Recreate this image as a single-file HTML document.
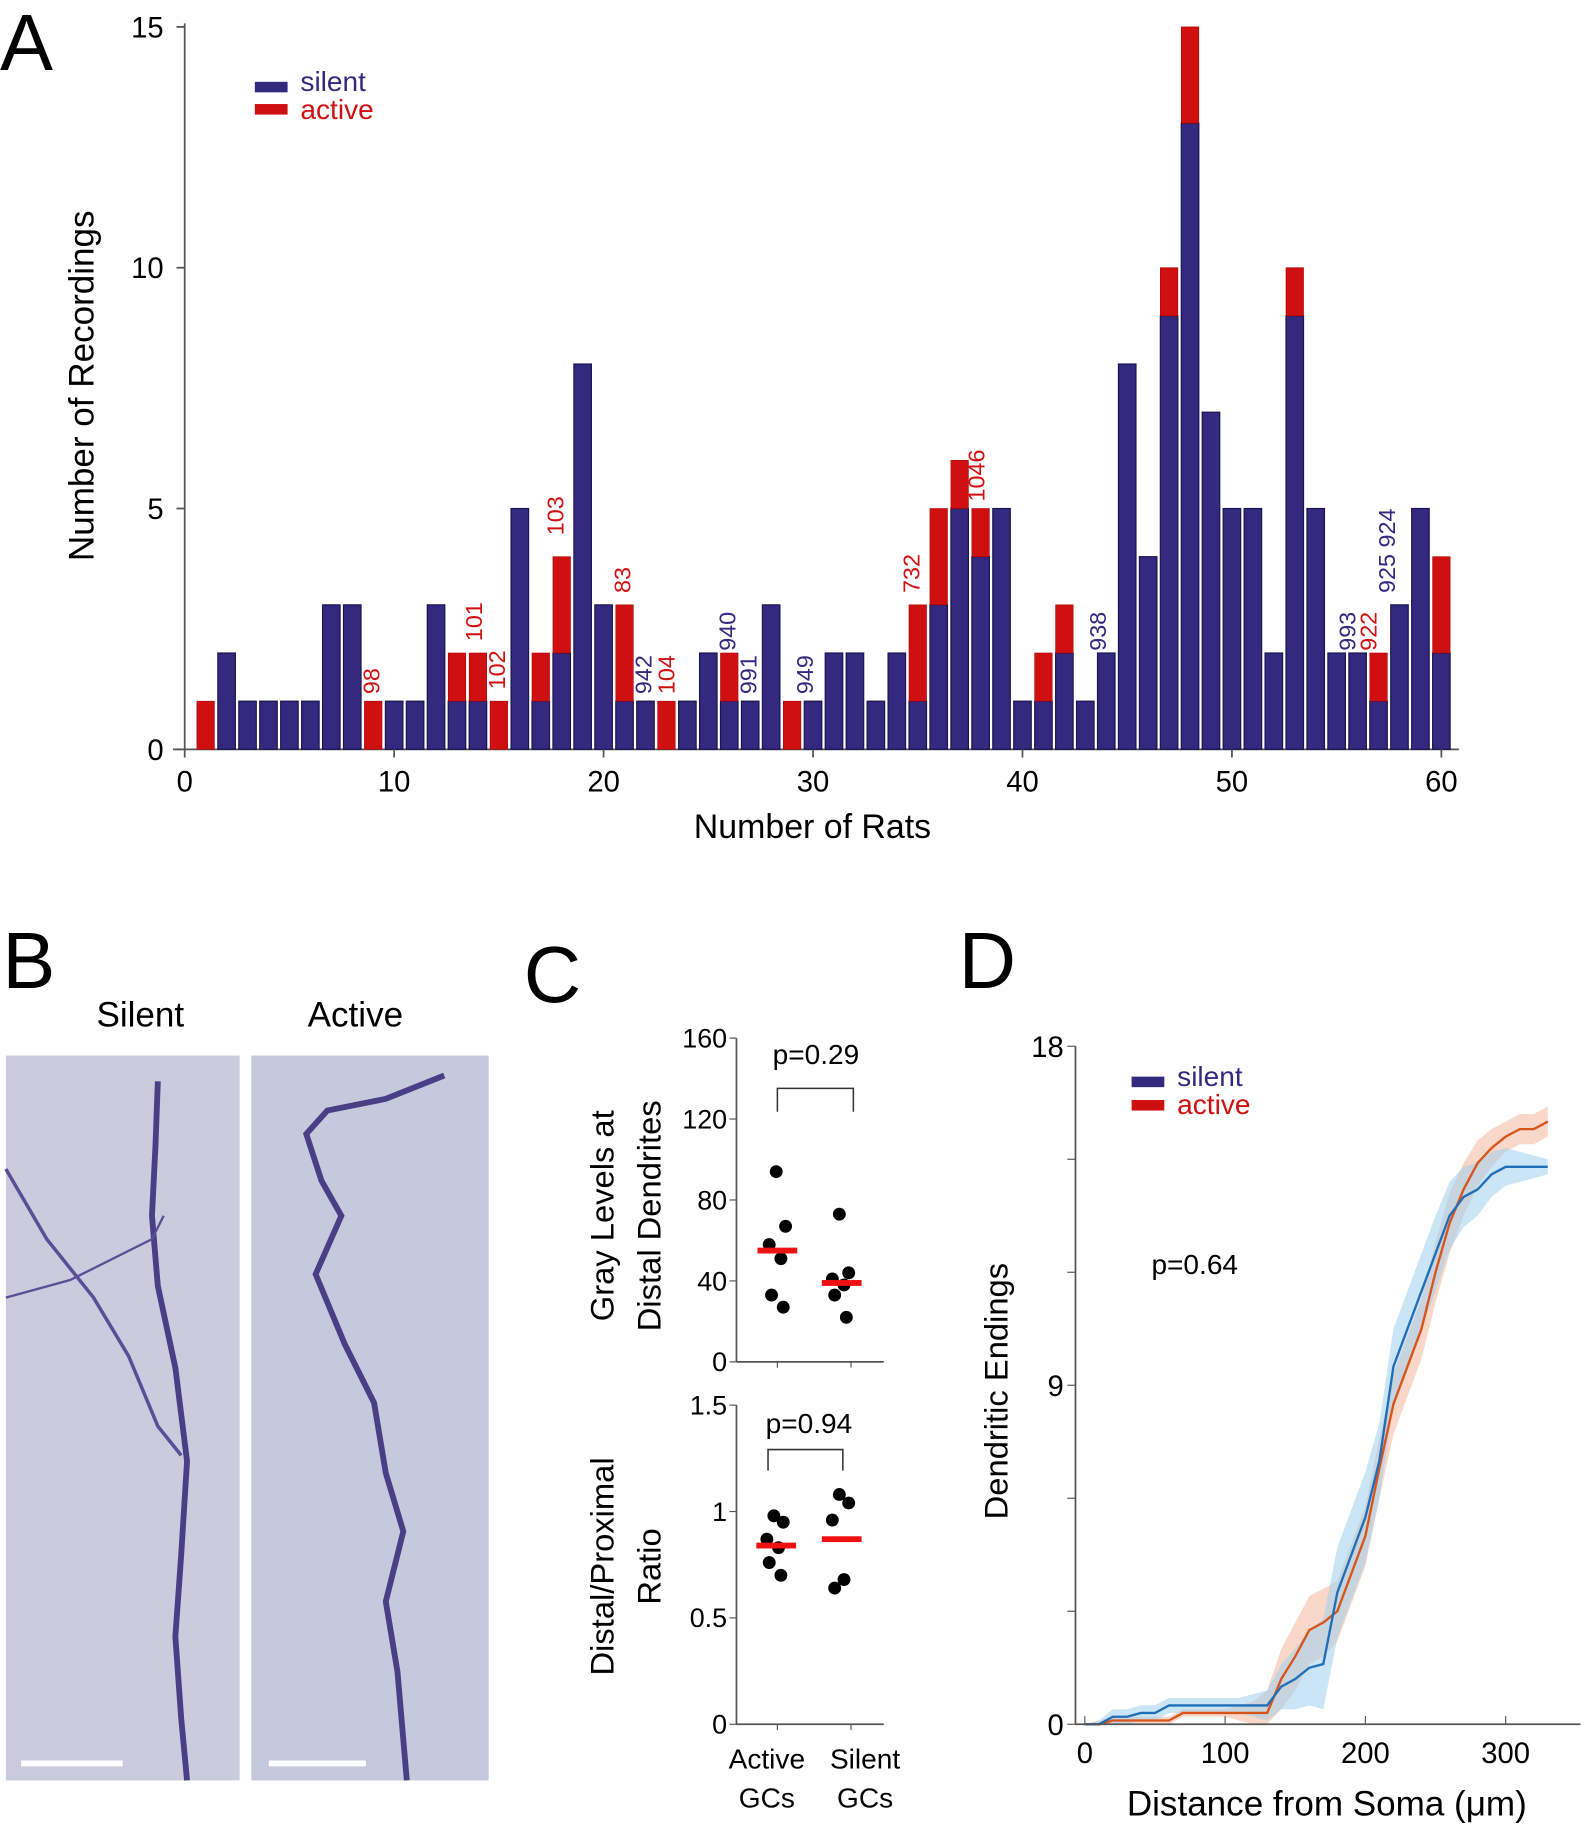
<!DOCTYPE html>
<html><head><meta charset="utf-8"><style>
html,body{margin:0;padding:0;background:#fff}
svg{display:block;font-family:"Liberation Sans",sans-serif}
</style></head><body>
<svg id="fig" width="1584" height="1840" viewBox="0 0 1355 1574" xmlns="http://www.w3.org/2000/svg">
<g id="pa">
<text x="0" y="60" font-size="68">A</text>
<line x1="158" y1="20" x2="158" y2="641" stroke="#555" stroke-width="1.5"/>
<line x1="148" y1="641" x2="1248" y2="641" stroke="#555" stroke-width="1.5"/>
<text transform="translate(80,330) rotate(-90)" text-anchor="middle" font-size="30">Number of Recordings</text>
<text x="695" y="717" text-anchor="middle" font-size="29">Number of Rats</text>
<rect x="218" y="70" width="28" height="9" fill="#33297f"/>
<text x="257" y="78" font-size="24" fill="#33297f">silent</text>
<rect x="218" y="89" width="28" height="9" fill="#d01010"/>
<text x="257" y="102" font-size="24" fill="#d01010">active</text>
</g>
<g id="pb">
<text x="2" y="845" font-size="68">B</text>
<text x="120" y="878" text-anchor="middle" font-size="30">Silent</text>
<text x="304" y="878" text-anchor="middle" font-size="30">Active</text>
<rect x="5" y="903" width="200" height="620" fill="#cacbdd"/>
<rect x="215" y="903" width="203" height="620" fill="#c6c8db"/>
<polyline fill="none" stroke="#4a3f86" stroke-width="5" points="135,925 133,980 130,1040 135,1100 150,1170 160,1250 155,1330 150,1400 155,1470 160,1523"/>
<polyline fill="none" stroke="#5a4f96" stroke-width="3" points="5,1000 40,1060 80,1110 110,1160 135,1220 155,1245"/>
<polyline fill="none" stroke="#5a4f96" stroke-width="2" points="5,1110 60,1095 130,1060 140,1040"/>
<polyline fill="none" stroke="#4a3f86" stroke-width="5" points="380,920 330,940 280,950 262,970 275,1010 292,1040 270,1090 295,1150 320,1200 330,1260 345,1310 330,1370 340,1430 348,1523"/>
<rect x="18" y="1506" width="87" height="5" fill="#fff"/>
<rect x="230" y="1506" width="83" height="5" fill="#fff"/>
</g>
<g id="pc">
<text x="448" y="857" font-size="68">C</text>
<text transform="translate(525,1040) rotate(-90)" text-anchor="middle" font-size="28">Gray Levels at</text>
<text transform="translate(565,1040) rotate(-90)" text-anchor="middle" font-size="28">Distal Dendrites</text>
<text transform="translate(525,1340) rotate(-90)" text-anchor="middle" font-size="28">Distal/Proximal</text>
<text transform="translate(565,1340) rotate(-90)" text-anchor="middle" font-size="28">Ratio</text>
<text x="698" y="910" text-anchor="middle" font-size="24">p=0.29</text>
<polyline points="665,951 665,931 730,931 730,951" fill="none" stroke="#333" stroke-width="1.3"/>
<text x="692" y="1226" text-anchor="middle" font-size="24">p=0.94</text>
<polyline points="657,1258 657,1240 721,1240 721,1258" fill="none" stroke="#333" stroke-width="1.3"/>
<text x="656" y="1513" text-anchor="middle" font-size="24">Active</text>
<text x="656" y="1546" text-anchor="middle" font-size="24">GCs</text>
<text x="740" y="1513" text-anchor="middle" font-size="24">Silent</text>
<text x="740" y="1546" text-anchor="middle" font-size="24">GCs</text>
</g>
<g id="pd">
<text x="820" y="845" font-size="68">D</text>
<text transform="translate(862,1190) rotate(-90)" text-anchor="middle" font-size="28">Dendritic Endings</text>
<text x="1135" y="1553" text-anchor="middle" font-size="30">Distance from Soma (μm)</text>
<text x="985" y="1090" font-size="24">p=0.64</text>
<rect x="968" y="921" width="28" height="9" fill="#33297f"/>
<text x="1007" y="929" font-size="24" fill="#33297f">silent</text>
<rect x="968" y="941" width="28" height="9" fill="#d01010"/>
<text x="1007" y="953" font-size="24" fill="#d01010">active</text>
</g>
</svg>
<script>
// Panel A data
const ratIds = [1,2,3,4,5,6,7,8,9,10,11,12,13,14,15,16,17,18,19,20,21,22,23,24,25,26,27,28,29,30,31,32,33,34,35,36,37,38,39,40,41,42,43,44,45,46,47,48,49,50,51,52,53,54,55,56,57,58,59,60];
const silentCounts = [0,2,1,1,1,1,3,3,0,1,1,3,1,1,0,5,1,2,8,3,1,1,0,1,2,1,1,3,0,1,2,2,1,2,1,3,5,4,5,1,1,2,1,2,8,4,9,13,7,5,5,2,9,5,2,2,1,3,5,2];
const activeCounts = [1,0,0,0,0,0,0,0,1,0,0,0,1,1,1,0,1,2,0,0,2,0,1,0,0,1,0,0,1,0,0,0,0,0,2,2,1,1,0,0,1,1,0,0,0,0,1,2,0,0,0,0,1,0,0,0,1,0,0,2];
const annText = ["98","101","102","103","83","942","104","940","991","949","732","1046","938","993","922","925 924"];
const annX = [8.9,13.8,14.9,17.7,20.9,21.9,23,25.9,26.9,29.6,34.7,37.8,43.6,55.5,56.5,57.4];
const annBase = [1,2.1,1.1,4.3,3.1,1,1,1.9,1,1,3.1,5,1.9,1.9,1.9,3.1];
const annActive = [1,1,1,1,1,0,1,0,0,0,1,1,0,0,1,0];
const xTicksA = [0,10,20,30,40,50,60];
const yTicksA = [0,5,10,15];
// Panel C data
const grayActive = [94,67,58,51,33,27];
const graySilent = [73,44,41,38,33,22];
const grayMeans = [55,39];
const ratioActive = [0.98,0.95,0.87,0.83,0.76,0.70];
const ratioSilent = [1.08,1.04,0.96,0.68,0.64];
const ratioMeans = [0.84,0.87];
const grayTicks = [0,40,80,120,160];
const ratioTicks = [0,0.5,1,1.5];
// Panel D data
const distance = [0,10,20,30,40,50,60,70,80,90,100,110,120,130,140,150,160,170,180,190,200,210,220,230,240,250,260,270,280,290,300,310,320,330];
const silentEndings = [0,0,0.2,0.2,0.3,0.3,0.5,0.5,0.5,0.5,0.5,0.5,0.5,0.5,1.0,1.2,1.5,1.6,3.5,4.5,5.5,7.0,9.5,10.5,11.5,12.5,13.5,14.0,14.2,14.6,14.8,14.8,14.8,14.8];
const activeEndings = [0,0,0.1,0.1,0.1,0.1,0.1,0.3,0.3,0.3,0.3,0.3,0.3,0.3,1.2,1.8,2.5,2.7,3.0,4.0,5.0,6.8,8.5,9.5,10.5,12.0,13.3,14.2,14.9,15.3,15.6,15.8,15.8,16.0];
const silentErr = [0,0.1,0.2,0.2,0.2,0.2,0.2,0.2,0.2,0.2,0.2,0.2,0.3,0.4,0.6,0.8,1.0,1.2,1.2,1.2,1.2,1.0,1.0,1.0,1.0,1.0,0.9,0.8,0.7,0.6,0.5,0.4,0.3,0.2];
const activeErr = [0,0.1,0.1,0.1,0.1,0.1,0.1,0.1,0.1,0.1,0.1,0.2,0.3,0.6,0.8,0.9,0.9,0.9,0.8,0.8,0.8,0.8,0.8,0.8,0.8,0.8,0.8,0.7,0.6,0.5,0.4,0.4,0.4,0.4];
const xTicksD = [0,100,200,300];
const yTicksD = [0,9,18];

const NS = "http://www.w3.org/2000/svg";
const svg = document.getElementById('fig');
function mk(tag, attrs, parent, txt){const e=document.createElementNS(NS,tag);for(const k in attrs)e.setAttribute(k,attrs[k]);if(txt!==undefined)e.textContent=txt;(parent||svg).appendChild(e);return e;}

// Panel A
const pa = document.getElementById('pa');
const xA = v => 158 + v*(1233-158)/60;
const yA = v => 641 - v*(641-23)/15;
const bw = 15;
ratIds.forEach((id,i)=>{
  const s = silentCounts[i], a = activeCounts[i];
  if(s>0){
    const r = mk('rect',{x:xA(id)-bw/2,y:yA(s),width:bw,height:yA(0)-yA(s),fill:'#33297f',stroke:'#1a1450','stroke-width':1},pa);
    
    
  }
  if(a>0){
    const r = mk('rect',{x:xA(id)-bw/2,y:yA(s+a),width:bw,height:yA(s)-yA(s+a),fill:'#d01010',stroke:'#a00',"stroke-width":0.5},pa);
    
    
  }
});
xTicksA.forEach(t=>{
  const l = mk('line',{x1:xA(t),x2:xA(t),y1:641,y2:648,stroke:'#555','stroke-width':1.5},pa);
  
  
  const tx = mk('text',{x:xA(t),y:677,'text-anchor':'middle','font-size':25},pa,String(t));
  
  
});
yTicksA.forEach(t=>{
  const l = mk('line',{x1:151,x2:158,y1:yA(t),y2:yA(t),stroke:'#555','stroke-width':1.5},pa);
  
  
  const tx = mk('text',{x:140,y:yA(t)+9,'text-anchor':'end','font-size':25},pa,String(t));
  
  
});
annText.forEach((t,i)=>{
  const x = xA(annX[i])+7, y = yA(annBase[i])-6;
  const tx = mk('text',{transform:`translate(${x},${y}) rotate(-90)`,'font-size':20,fill:annActive[i]?'#d01010':'#33297f'},pa,t);
  
  
});

// Panel C
const pc = document.getElementById('pc');
const yG = v => 1165 - v*(1165-888)/160;
const yR = v => 1475 - v*(1475-1202)/1.5;
[[888,1165,'gray'],[1202,1475,'ratio']].forEach(([t,b,n])=>{
  const ax = mk('line',{x1:630,x2:630,y1:t,y2:b,stroke:'#555','stroke-width':1.5},pc);
  
  
  const bx = mk('line',{x1:630,x2:756,y1:b,y2:b,stroke:'#555','stroke-width':1.5},pc);
  
  
  [665,728].forEach(x=>{const k=mk('line',{x1:x,x2:x,y1:b,y2:b+5,stroke:'#555'},pc);
    
    });
});
grayTicks.forEach(t=>{
  const l=mk('line',{x1:624,x2:630,y1:yG(t),y2:yG(t),stroke:'#555'},pc);
  
  
  const tx=mk('text',{x:622,y:yG(t)+8,'text-anchor':'end','font-size':23},pc,String(t));
  
  
});
ratioTicks.forEach(t=>{
  const l=mk('line',{x1:624,x2:630,y1:yR(t),y2:yR(t),stroke:'#555'},pc);
  
  
  const tx=mk('text',{x:622,y:yR(t)+8,'text-anchor':'end','font-size':23},pc,String(t));
  
  
});
const jit = [0,8,-6,4,-4,6];
function dots(vals, cx, ys, name){
  vals.forEach((v,i)=>{
    const c=mk('circle',{cx:cx+jit[i%jit.length],cy:ys(v),r:5.5,fill:'#000'},pc);
    
    
  });
}
dots(grayActive,664,yG,'gray-active');
dots(graySilent,718,yG,'gray-silent');
dots(ratioActive,662,yR,'ratio-active');
dots(ratioSilent,718,yR,'ratio-silent');
[[grayMeans,yG,'gray',[665,720]],[ratioMeans,yR,'ratio',[664,720]]].forEach(([m,ys,n,cxs])=>{
  m.forEach((v,i)=>{
    const r=mk('rect',{x:cxs[i]-17,y:ys(v)-2.5,width:34,height:5,fill:'#ee1111'},pc);
    
    
  });
});

// Panel D
const pd = document.getElementById('pd');
const xD = v => 928 + v*1.2;
const yD = v => 1475 - v*(1475-895)/18;
function band(m,e,fill,name){
  const up = distance.map((d,i)=>xD(d)+','+yD(m[i]+e[i]));
  const dn = distance.map((d,i)=>xD(d)+','+yD(Math.max(0,m[i]-e[i]))).reverse();
  const p=mk('polygon',{points:up.concat(dn).join(' '),fill:fill,opacity:0.55},pd);
  
  
}
band(activeEndings,activeErr,'#f4b79c','active-error-band');
band(silentEndings,silentErr,'#9fd0ec','silent-error-band');
const la=mk('polyline',{points:distance.map((d,i)=>xD(d)+','+yD(activeEndings[i])).join(' '),fill:'none',stroke:'#d9541a','stroke-width':2},pd);


const ls=mk('polyline',{points:distance.map((d,i)=>xD(d)+','+yD(silentEndings[i])).join(' '),fill:'none',stroke:'#1f6fb8','stroke-width':2},pd);


const dy=mk('line',{x1:920,x2:920,y1:895,y2:1475,stroke:'#555','stroke-width':1.5},pd);


const dx=mk('line',{x1:920,x2:1352,y1:1475,y2:1475,stroke:'#555','stroke-width':1.5},pd);


for(let v=0;v<=18;v+=3){
  const l=mk('line',{x1:913,x2:920,y1:yD(v),y2:yD(v),stroke:'#555'},pd);
  
  
}
yTicksD.forEach(t=>{
  const tx=mk('text',{x:910,y:yD(t)+9,'text-anchor':'end','font-size':25},pd,String(t));
  
  
});
xTicksD.forEach(t=>{
  const l=mk('line',{x1:xD(t),x2:xD(t),y1:1475,y2:1468,stroke:'#555'},pd);
  
  
  const tx=mk('text',{x:xD(t),y:1508,'text-anchor':'middle','font-size':25},pd,String(t));
  
  
});
</script>
</body></html>
